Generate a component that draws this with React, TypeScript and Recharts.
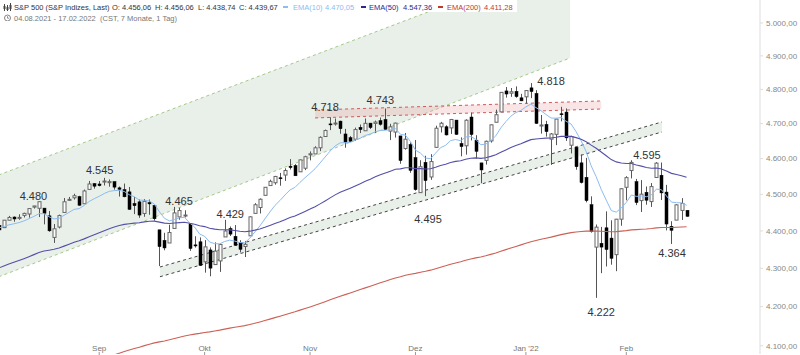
import { Area, Bar, ComposedChart, Line, ReferenceDot, XAxis, YAxis } from 'recharts';

const opens = [4415, 4408.86, 4429.07, 4437.77, 4435.79, 4442.18, 4446.08, 4464.84, 4461.65, 4462.12, 4440.94, 4382.44, 4410.56, 4450.29, 4484.4, 4490.45, 4493.75, 4474.1, 4513.76, 4529.75,
  4528.8, 4534.48, 4532.42, 4535.38, 4518.09, 4513.02, 4506.92, 4474.81, 4479.33, 4447.49, 4477.09, 4469.74, 4402.95, 4374.45, 4367.43, 4406.75, 4438.04, 4442.12, 4419, 4362.41, 4370.67,
  4317.16, 4348.84, 4309.87, 4319.57, 4383.73, 4406.51, 4385.44, 4368.31, 4358.01, 4386.75, 4447.69, 4463.72, 4497.34, 4524.42, 4532.24, 4546.12, 4553.69, 4578.69, 4580.22, 4562.84, 4572.87,
  4610.62, 4613.34, 4630.65, 4662.93, 4699.26, 4701.48, 4707.25, 4670.26, 4659.39, 4655.24, 4689.3, 4679.42, 4701.5, 4700.72, 4708.44, 4712, 4678.48, 4675.78, 4664.63, 4628.75, 4640.25,
  4602.82, 4504.73, 4589.49, 4548.37, 4631.97, 4690.86, 4691, 4687.64, 4710.3, 4642.99, 4636.46, 4719.13, 4652.5, 4587.9, 4594.96, 4650.36, 4703.96, 4733.99, 4795.49, 4788.64, 4794.23, 4775.21,
  4778.14, 4804.51, 4787.99, 4693.39, 4697.66, 4655.34, 4669.14, 4728.59, 4733.56, 4637.99, 4632.24, 4588.03, 4547.35, 4471.38, 4356.32, 4366.64, 4408.43, 4380.58, 4336.19, 4431.79,
  4519.57, 4566.39, 4535.41, 4482.79, 4505.75, 4480.02, 4547, 4553.24, 4506.27, 4412.61, 4429.28, 4455.75, 4456.06];

const highs = [4416, 4429.76, 4440.82, 4439.39, 4445.21, 4449.44, 4461.77, 4468.37, 4480.26, 4462.12, 4454.32, 4418.61, 4444.35, 4489.88, 4492.81, 4501.71, 4495.9, 4513.33, 4537.36, 4531.39,
  4537.11, 4545.85, 4541.45, 4535.38, 4521.79, 4529.9, 4520.47, 4492.99, 4485.68, 4486.87, 4485.87, 4471.52, 4402.95, 4394.87, 4416.75, 4465.4, 4463.12, 4456.13, 4419.54, 4385.57, 4382.53,
  4375.19, 4355.51, 4369.23, 4365.57, 4429.97, 4412.02, 4415.88, 4374.89, 4372.87, 4439.73, 4475.82, 4488.75, 4520.4, 4540.87, 4551.44, 4559.67, 4572.62, 4598.53, 4584.57, 4597.55, 4608.08,
  4620.34, 4635.15, 4663.46, 4683, 4718.5, 4714.92, 4708.53, 4684.85, 4664.55, 4688.47, 4697.42, 4714.95, 4701.5, 4708.8, 4717.75, 4743.83, 4699.39, 4702.87, 4664.63, 4672.95, 4646.02,
  4652.94, 4595.46, 4608.03, 4612.6, 4694.04, 4705.06, 4695.26, 4713.57, 4710.3, 4660.47, 4712.6, 4731.99, 4666.7, 4587.9, 4651.14, 4697.67, 4740.74, 4791.49, 4807.02, 4804.06, 4808.93, 4786.83,
  4796.64, 4818.62, 4797.7, 4725.01, 4707.95, 4673.02, 4714.13, 4748.83, 4744.13, 4665.13, 4632.24, 4611.55, 4602.11, 4494.52, 4417.35, 4411.01, 4453.23, 4428.74, 4432.72, 4516.89,
  4550.49, 4595.31, 4542.88, 4539.66, 4521.86, 4531.32, 4590.03, 4588.92, 4526.33, 4426.22, 4472.77, 4489.55, 4456.06];

const lows = [4400, 4408.86, 4429.07, 4424.74, 4430.03, 4436.42, 4435.96, 4460.82, 4437.66, 4417.83, 4397.59, 4367.73, 4406.8, 4450.29, 4482.28, 4485.66, 4468.99, 4474.1, 4513.76, 4515.8,
  4522.02, 4524.66, 4521.3, 4513, 4493.95, 4492.07, 4457.66, 4445.7, 4435.46, 4438.37, 4443.8, 4427.76, 4305.91, 4347.96, 4367.43, 4406.75, 4430.27, 4436.75, 4346.33, 4355.08, 4306.24,
  4288.52, 4278.94, 4309.87, 4290.49, 4383.73, 4386.22, 4360.59, 4342.09, 4329.92, 4386.75, 4447.69, 4447.47, 4496.41, 4524.4, 4526.89, 4524, 4537.36, 4569.17, 4551.66, 4562.84, 4567.59,
  4595.06, 4613.34, 4621.19, 4662.59, 4681.32, 4694.39, 4670.87, 4630.86, 4648.31, 4650.77, 4672.86, 4679.42, 4684.41, 4672.78, 4694.22, 4682.17, 4652.66, 4659.89, 4585.43, 4625.26, 4560,
  4510.27, 4504.73, 4495.12, 4540.51, 4631.97, 4674.52, 4665.98, 4670.24, 4667.6, 4606.52, 4611.22, 4651.89, 4600.22, 4531.1, 4583.16, 4645.53, 4703.96, 4733.99, 4775.84, 4778.08, 4775.33, 4765.75,
  4758.17, 4774.27, 4699.44, 4671.26, 4662.74, 4582.24, 4638.27, 4706.71, 4650.29, 4614.75, 4568.7, 4530.2, 4477.95, 4395.34, 4222.62, 4287.11, 4304.8, 4309.5, 4292.46, 4414.02,
  4483.53, 4544.32, 4470.39, 4451.5, 4471.47, 4465.4, 4547, 4484.31, 4401.41, 4364.84, 4429.28, 4429.68, 4438.74];

const closes = [4402.66, 4429.1, 4436.52, 4432.35, 4436.75, 4447.7, 4460.83, 4468, 4479.71, 4448.08, 4400.27, 4405.8, 4441.67, 4479.53, 4486.23, 4496.19, 4470, 4509.37, 4528.79, 4522.68,
  4524.09, 4536.95, 4535.43, 4520.03, 4514.07, 4493.28, 4458.58, 4468.73, 4443.05, 4480.7, 4473.75, 4432.99, 4357.73, 4354.19, 4395.64, 4448.98, 4455.48, 4443.11, 4352.63, 4359.46, 4307.54,
  4357.04, 4300.46, 4345.72, 4363.55, 4399.76, 4391.34, 4361.19, 4350.65, 4363.8, 4438.26, 4471.37, 4486.46, 4519.63, 4536.19, 4549.78, 4544.9, 4566.48, 4574.79, 4551.68, 4596.42, 4605.38,
  4613.67, 4630.65, 4660.57, 4680.06, 4697.53, 4701.7, 4685.25, 4646.71, 4649.27, 4682.85, 4682.8, 4700.9, 4688.67, 4704.54, 4697.96, 4682.94, 4690.7, 4701.46, 4594.62, 4655.27, 4567,
  4513.04, 4577.1, 4538.43, 4591.67, 4686.75, 4701.21, 4667.45, 4712.02, 4668.97, 4634.09, 4709.85, 4668.67, 4620.64, 4568.02, 4649.23, 4696.56, 4725.79, 4791.19, 4786.35, 4793.06, 4778.73, 4766.18,
  4796.56, 4793.54, 4700.58, 4696.05, 4677.03, 4670.29, 4713.07, 4726.35, 4659.03, 4662.85, 4577.11, 4532.76, 4482.73, 4397.94, 4410.13, 4356.45, 4349.93, 4326.51, 4431.85, 4515.55,
  4546.54, 4589.38, 4477.44, 4500.53, 4483.87, 4521.54, 4587.18, 4504.08, 4418.64, 4401.67, 4471.07, 4475.01, 4439.67];

const ema10 = [4408, 4412, 4416.4, 4419.3, 4422.5, 4427.1, 4433.2, 4439.5, 4446.8, 4447, 4438.5, 4432.6, 4434.2, 4442.4, 4450.4, 4458.7, 4460.7, 4469.5, 4480.3, 4488,
  4494.6, 4502.3, 4508.3, 4510.4, 4511.1, 4507.9, 4498.9, 4493.4, 4484.2, 4483.6, 4481.8, 4472.9, 4452, 4434.2, 4427.2, 4431.2, 4435.6, 4437, 4421.7, 4410.4, 4391.7,
  4385.4, 4370, 4365.6, 4365.2, 4371.5, 4375.1, 4372.6, 4368.6, 4367.7, 4380.5, 4397, 4413.3, 4432.6, 4451.4, 4469.3, 4483, 4498.2, 4512.1, 4519.3, 4533.3, 4546.3,
  4558.5, 4571.5, 4587.7, 4604.5, 4621.4, 4636, 4645, 4645.3, 4646, 4652.7, 4658.2, 4666, 4670.1, 4676.4, 4680.3, 4680.8, 4682.6, 4686, 4669.4, 4666.8, 4648.7,
  4624, 4615.5, 4601.5, 4599.7, 4615.5, 4631.1, 4637.7, 4651.2, 4654.4, 4650.7, 4661.5, 4662.8, 4655.1, 4639.3, 4641.1, 4651.2, 4664.8, 4687.8, 4705.7, 4721.6, 4732, 4738.2,
  4748.8, 4756.9, 4746.7, 4737.5, 4726.5, 4716.3, 4715.7, 4717.6, 4706.9, 4698.9, 4676.8, 4650.6, 4620.1, 4579.7, 4548.9, 4513.9, 4484.1, 4455.4, 4451.1, 4462.8,
  4478, 4498.2, 4494.4, 4495.5, 4493.4, 4498.5, 4514.6, 4512.7, 4495.6, 4478.5, 4477.1, 4476.7, 4470.05];

const ema50 = [4301, 4306, 4311.1, 4315.9, 4320.6, 4325.6, 4330.9, 4336.3, 4341.9, 4346.1, 4348.2, 4350.5, 4354.1, 4359, 4364, 4369.2, 4373.2, 4378.5, 4384.4, 4389.8,
  4395.1, 4400.7, 4406, 4410.5, 4414.6, 4417.7, 4419.3, 4421.2, 4422.1, 4424.4, 4426.3, 4426.6, 4423.9, 4421.2, 4420.2, 4421.3, 4422.6, 4423.4, 4420.6, 4418.2, 4413.9,
  4411.7, 4407.3, 4404.9, 4403.3, 4403.2, 4402.7, 4401.1, 4399.1, 4397.7, 4399.3, 4402.1, 4405.4, 4409.9, 4414.9, 4420.2, 4425.1, 4430.6, 4436.3, 4440.8, 4446.9, 4453.1,
  4459.4, 4466.1, 4473.7, 4481.8, 4490.3, 4498.6, 4505.9, 4511.4, 4516.8, 4523.3, 4529.6, 4536.3, 4542.3, 4548.7, 4554.6, 4559.6, 4564.7, 4570.1, 4571.1, 4574.4, 4574.1,
  4571.7, 4571.9, 4570.6, 4571.4, 4575.9, 4580.8, 4584.2, 4589.2, 4592.3, 4593.9, 4598.4, 4601.2, 4602, 4600.7, 4602.6, 4606.3, 4611, 4618.1, 4624.7, 4631.3, 4637.1, 4642.2,
  4648.3, 4654, 4655.8, 4657.4, 4658.2, 4658.7, 4660.8, 4663.4, 4663.2, 4663.2, 4659.8, 4654.8, 4648.1, 4638.3, 4629.4, 4618.7, 4608.2, 4597.2, 4590.7, 4587.8,
  4586.2, 4586.3, 4582, 4578.8, 4575.1, 4573, 4573.6, 4570.9, 4564.9, 4558.5, 4555.1, 4552, 4547.36];

// starts below the visible range, the first points get clipped
const ema200 = [3976, 3980, 3985, 3989, 3993, 3998, 4002, 4007, 4011, 4016, 4020, 4025, 4029, 4034, 4038, 4043, 4047, 4051, 4055, 4060,
  4064, 4068.5, 4073, 4077, 4081.4, 4085.5, 4089.2, 4093, 4096.5, 4100.3, 4104, 4107.3, 4109.8, 4112.2, 4115, 4118.3, 4121.7, 4124.9, 4127.2, 4129.5, 4131.3,
  4133.5, 4135.2, 4137.3, 4139.6, 4142.2, 4144.7, 4146.9, 4148.9, 4151, 4153.9, 4157.1, 4160.4, 4164, 4167.7, 4171.5, 4175.2, 4179.1, 4183, 4186.7, 4190.8, 4194.9,
  4199.1, 4203.4, 4207.9, 4212.6, 4217.4, 4222.2, 4226.8, 4231, 4235.2, 4239.7, 4244.1, 4248.6, 4253, 4257.5, 4261.9, 4266.1, 4270.3, 4274.6, 4277.8, 4281.6, 4284.4,
  4286.7, 4289.6, 4292.1, 4295.1, 4299, 4303, 4306.6, 4310.6, 4314.2, 4317.4, 4321.3, 4324.8, 4327.7, 4330.1, 4333.3, 4336.9, 4340.8, 4345.3, 4349.7, 4354.1, 4358.3, 4362.4,
  4366.7, 4370.9, 4374.2, 4377.4, 4380.4, 4383.3, 4386.6, 4390, 4392.7, 4395.4, 4397.2, 4398.5, 4399.3, 4399.3, 4399.4, 4399, 4398.5, 4397.8, 4398.1, 4399.3,
  4400.8, 4402.7, 4403.4, 4404.4, 4405.2, 4406.4, 4408.2, 4409.2, 4409.3, 4409.2, 4409.8, 4410.5, 4411.28];

const priceTicks = [4100, 4200, 4300, 4400, 4500, 4600, 4700, 4800, 4900, 5000];
const monthTicks = [20, 41, 62, 83, 105, 125];
const monthLabels = ['Sep', 'Okt', 'Nov', 'Dez', "Jan '22", 'Feb'];

const upperChannel = [
  { idx: 0, band: [4277.7, 4554] },
  { idx: 113.8, band: [4893.6, 5203.8] },
];
const lowerChannel = [
  { idx: 32.1, band: [4277.7, 4303.4] },
  { idx: 132.1, band: [4676, 4704.9] },
];
const resistanceZone = [
  { idx: 63, band: [4716.5, 4739.6] },
  { idx: 120, band: [4742.5, 4766] },
];

const annotations = [
  { idx: 6.9, price: 4496, text: '4.480' },
  { idx: 20.1, price: 4568, text: '4.545' },
  { idx: 35.9, price: 4482, text: '4.465' },
  { idx: 46.1, price: 4446, text: '4.429' },
  { idx: 65, price: 4748, text: '4.718' },
  { idx: 76, price: 4769, text: '4.743' },
  { idx: 110, price: 4825, text: '4.818' },
  { idx: 129.1, price: 4610, text: '4.595' },
  { idx: 85.5, price: 4432, text: '4.495' },
  { idx: 120, price: 4186, text: '4.222' },
  { idx: 134.1, price: 4341, text: '4.364' },
];

const rows = closes.map((close, i) => ({
  idx: i,
  open: opens[i],
  high: highs[i],
  low: lows[i],
  close,
  range: [lows[i], highs[i]],
  ema10: ema10[i],
  ema50: ema50[i],
  ema200: ema200[i],
}));

const fontFamily = '"Liberation Sans", Arial, sans-serif';

function Candle(props: any) {
  const { x, y, width, height, payload } = props;
  const { open, high, low, close } = payload;
  const span = Math.log(high / low) || 1;
  const toY = (v: number) => y + (height * Math.log(high / v)) / span;
  const up = close >= open;
  const top = toY(Math.max(open, close));
  const bottom = toY(Math.min(open, close));
  const mid = Math.round(x + width / 2) + 0.5;
  return (
    <g>
      <line x1={mid} x2={mid} y1={y} y2={y + height} stroke="#555" strokeWidth={1} />
      <rect
        x={mid - 1.5}
        y={top}
        width={3}
        height={Math.max(bottom - top, 1)}
        fill={up ? '#fff' : '#000'}
        stroke={up ? '#666' : '#000'}
        strokeWidth={up ? 1 : 0.5}
      />
    </g>
  );
}

function MonthTick({ x, payload }: any) {
  const label = monthLabels[monthTicks.indexOf(payload.value)];
  return (
    <g>
      <line x1={x} x2={x} y1={352} y2={355} stroke="#999" />
      <text x={x} y={351} textAnchor="middle" fontSize={8} fill="#777" fontFamily={fontFamily}>
        {label}
      </text>
    </g>
  );
}

function HeaderText({ x, y, color, children }: any) {
  return (
    <span style={{ position: 'absolute', left: x, top: y, color, fontSize: 7.5, lineHeight: '9px', whiteSpace: 'nowrap' }}>
      {children}
    </span>
  );
}

function Dash({ x, color }: any) {
  return <span style={{ position: 'absolute', left: x, top: 6, width: 5, height: 2, background: color }} />;
}

export default function App() {
  return (
    <div style={{ position: 'absolute', left: 0, top: 0, width: 800, height: 355, background: '#fff', fontFamily, overflow: 'hidden' }}>
      <ComposedChart width={800} height={355} data={rows} margin={{ top: 0, right: 0, bottom: 0, left: 0 }}>
        <XAxis
          dataKey="idx"
          type="number"
          domain={[0.239, 151.63]}
          allowDataOverflow
          ticks={monthTicks}
          height={1}
          axisLine={false}
          tickLine={false}
          tick={<MonthTick />}
          interval={0}
        />
        <YAxis
          orientation="right"
          width={40}
          scale="log"
          domain={[4079.3, 5071.2]}
          allowDataOverflow
          ticks={priceTicks}
          interval={0}
          tickSize={3}
          tickMargin={3}
          stroke="#ddd"
          tick={{ fontSize: 8, fill: '#888', fontFamily }}
          tickFormatter={(v: number) => `${Math.floor(v / 1000)}.${String(v % 1000).padStart(3, '0')},00`}
        />
        <Area data={upperChannel} dataKey="band" type="linear" fill="#e9efe9" fillOpacity={1} stroke="#a5c98a" strokeDasharray="3 3" strokeWidth={1} dot={false} activeDot={false} isAnimationActive={false} />
        <Area data={lowerChannel} dataKey="band" type="linear" fill="#e9efe9" fillOpacity={1} stroke="#444" strokeDasharray="3 3" strokeWidth={1} dot={false} activeDot={false} isAnimationActive={false} />
        <Area data={resistanceZone} dataKey="band" type="linear" fill="#e8a0a0" fillOpacity={0.28} stroke="#d05a5a" strokeDasharray="3 3" strokeWidth={1} dot={false} activeDot={false} isAnimationActive={false} />
        <Bar dataKey="range" barSize={4} shape={<Candle />} isAnimationActive={false} />
        <Line dataKey="ema10" type="linear" stroke="#8dbcf0" strokeWidth={1} dot={false} activeDot={false} isAnimationActive={false} />
        <Line dataKey="ema50" type="linear" stroke="#5450a8" strokeWidth={1.1} dot={false} activeDot={false} isAnimationActive={false} />
        <Line dataKey="ema200" type="linear" stroke="#cc6055" strokeWidth={1.1} dot={false} activeDot={false} isAnimationActive={false} />
        {annotations.map((a) => (
          <ReferenceDot
            key={a.text}
            x={a.idx}
            y={a.price}
            r={0}
            stroke="none"
            label={{ value: a.text, position: 'center', fontSize: 11, fill: '#333', fontFamily }}
          />
        ))}
      </ComposedChart>

      <div style={{ position: 'absolute', left: 0, top: 0, width: 517, height: 12, background: '#fff' }} />
      <svg style={{ position: 'absolute', left: 3, top: 3 }} width={10} height={18}>
        <path d="M1.5 1v7M4.5 2v6M7.5 0v8" stroke="#444" strokeWidth={1} />
        <path d="M0.5 3h2v3h-2zM3.5 4h2v3h-2zM6.5 2h2v4h-2z" fill="#444" />
        <circle cx={4.5} cy={15} r={3} fill="none" stroke="#666" strokeWidth={0.8} />
        <path d="M4.5 13.2v2h1.5" fill="none" stroke="#666" strokeWidth={0.7} />
      </svg>
      <HeaderText x={14} y={3} color="#333">S&amp;P 500 (S&amp;P Indizes, Last)</HeaderText>
      <HeaderText x={112} y={3} color="#333">O: 4.456,06</HeaderText>
      <HeaderText x={155} y={3} color="#333">H: 4.456,06</HeaderText>
      <HeaderText x={198} y={3} color="#333">L: 4.438,74</HeaderText>
      <HeaderText x={239} y={3} color="#333">C: 4.439,67</HeaderText>
      <Dash x={283} color="#8dbcf0" />
      <HeaderText x={293} y={3} color="#8dbcf0">EMA(10)</HeaderText>
      <HeaderText x={325} y={3} color="#8dbcf0">4.470,05</HeaderText>
      <Dash x={361} color="#2b2a8c" />
      <HeaderText x={369} y={3} color="#2b2a8c">EMA(50)</HeaderText>
      <HeaderText x={403} y={3} color="#2b2a8c">4.547,36</HeaderText>
      <Dash x={438} color="#c0392b" />
      <HeaderText x={447} y={3} color="#c0392b">EMA(200)</HeaderText>
      <HeaderText x={484} y={3} color="#c0392b">4.411,28</HeaderText>
      <HeaderText x={14} y={14} color="#777">04.08.2021 - 17.02.2022</HeaderText>
      <HeaderText x={100} y={14} color="#777">(CST, 7 Monate, 1 Tag)</HeaderText>
    </div>
  );
}
